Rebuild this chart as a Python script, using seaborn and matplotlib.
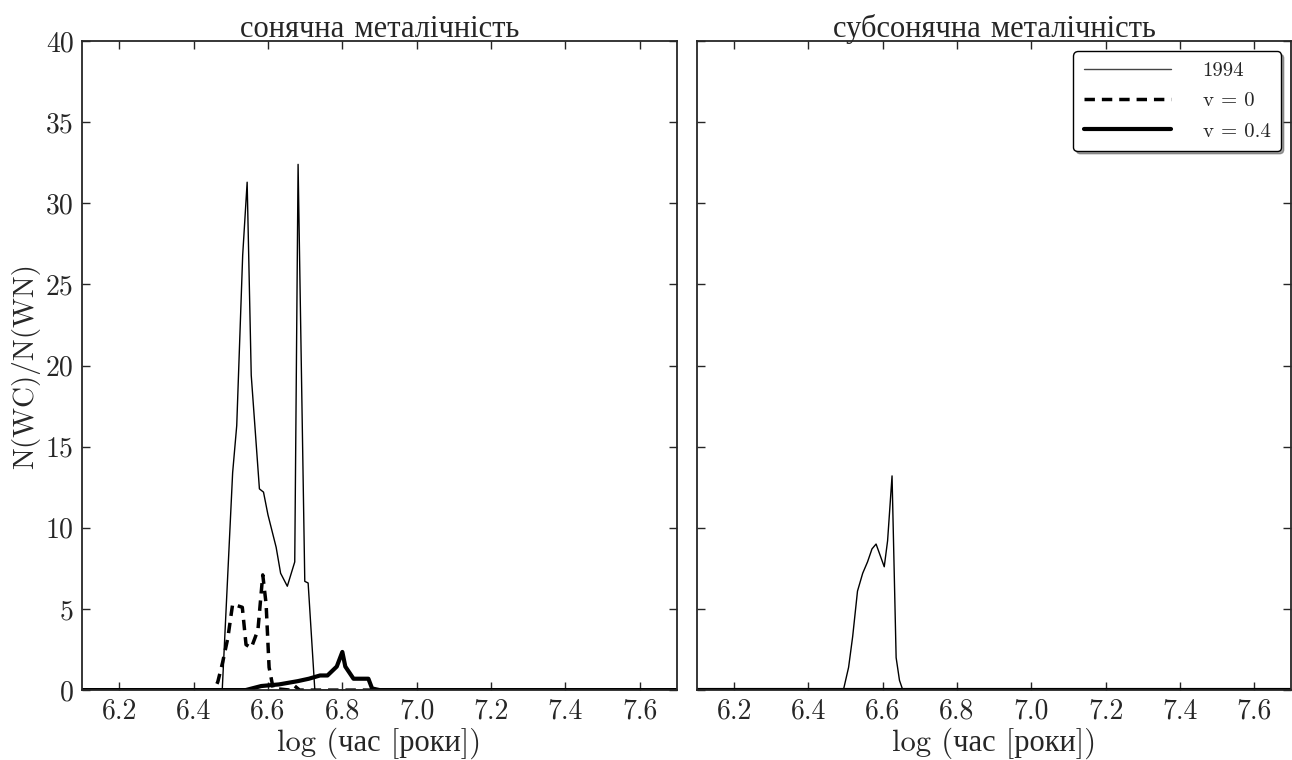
import numpy as np
import pandas as pd
import matplotlib
matplotlib.use("Agg")
import matplotlib.pyplot as plt
import seaborn as sns

# ---- data ----
# solar metallicity panel
solar_1994_x = [6.10, 6.477, 6.505, 6.516, 6.532, 6.544, 6.555, 6.577, 6.588, 6.600, 6.622,
                6.634, 6.652, 6.672, 6.681, 6.699, 6.708, 6.726, 7.70]
solar_1994_y = [0.0, 0.0, 13.4, 16.3, 26.8, 31.3, 19.4, 12.4, 12.2, 10.8, 8.8,
                7.2, 6.4, 7.9, 32.4, 6.7, 6.6, 0.0, 0.0]

solar_v0_x = [6.10, 6.455, 6.465, 6.478, 6.492, 6.505, 6.531, 6.541, 6.555, 6.573, 6.586,
              6.595, 6.603, 6.614, 6.660, 6.672, 6.685, 7.70]
solar_v0_y = [0.0, 0.0, 0.5, 1.7, 3.2, 5.3, 5.1, 2.8, 2.6, 3.7, 7.1,
              5.3, 1.4, 0.1, 0.0, 0.25, 0.0, 0.0]

solar_v04_x = [6.10, 6.540, 6.582, 6.630, 6.680, 6.710, 6.740, 6.760, 6.785, 6.800, 6.808,
               6.830, 6.870, 6.880, 6.900, 7.70]
solar_v04_y = [0.0, 0.0, 0.25, 0.35, 0.55, 0.7, 0.9, 0.9, 1.45, 2.35, 1.45,
               0.7, 0.7, 0.1, 0.0, 0.0]

# sub-solar metallicity panel
sub_1994_x = [6.10, 6.494, 6.508, 6.519, 6.532, 6.546, 6.559, 6.571, 6.582, 6.604, 6.613,
              6.625, 6.636, 6.645, 6.654, 7.70]
sub_1994_y = [0.0, 0.0, 1.4, 3.3, 6.1, 7.2, 7.9, 8.7, 9.0, 7.6, 9.2,
              13.2, 2.0, 0.6, 0.0, 0.0]
sub_v0_x = [6.10, 7.70]
sub_v0_y = [0.0, 0.0]
sub_v04_x = [6.10, 7.70]
sub_v04_y = [0.0, 0.0]

labels = ["1994", "v = 0", "v = 0.4"]
titles = ["сонячна металічність", "субсонячна металічність"]
xlabel = "log (час [роки])"
ylabel = "N(WC)/N(WN)"
xticks = [6.2, 6.4, 6.6, 6.8, 7.0, 7.2, 7.4, 7.6]
yticks = [0, 5, 10, 15, 20, 25, 30, 35, 40]

sns.set_style("ticks")
plt.rcParams["font.family"] = ["cmr10", "Liberation Serif"]
plt.rcParams["mathtext.fontset"] = "cm"
plt.rcParams["axes.formatter.use_mathtext"] = True

fig = plt.figure(figsize=(12.92, 7.6), dpi=100)
ax1 = fig.add_axes([0.0635, 0.092, 0.4605, 0.854])
ax2 = fig.add_axes([0.5395, 0.092, 0.4600, 0.854], sharey=ax1)

styles = [dict(color="black", lw=1.0, ls="-"),
          dict(color="black", lw=2.5, ls="--", dashes=(3, 2)),
          dict(color="black", lw=3.0, ls="-")]

panels = [
    (ax1, [(solar_1994_x, solar_1994_y), (solar_v0_x, solar_v0_y), (solar_v04_x, solar_v04_y)]),
    (ax2, [(sub_1994_x, sub_1994_y), (sub_v0_x, sub_v0_y), (sub_v04_x, sub_v04_y)]),
]

for i, (ax, series) in enumerate(panels):
    for (x, y), lab, st in zip(series, labels, styles):
        df = pd.DataFrame({"x": x, "y": y})
        kw = dict(st)
        dashes = kw.pop("dashes", None)
        sns.lineplot(data=df, x="x", y="y", ax=ax, label=lab, sort=False,
                     color=kw["color"], linewidth=kw["lw"], linestyle=kw["ls"],
                     legend=False)
        if dashes is not None:
            ax.lines[-1].set_dashes(dashes)
    ax.set_xlim(6.1, 7.7)
    ax.set_ylim(0, 40)
    ax.set_xticks(xticks)
    ax.set_yticks(yticks)
    ax.set_xticklabels([f"{t:.1f}" for t in xticks])
    ax.set_title(titles[i], fontsize=22, pad=3)
    ax.set_xlabel(xlabel, fontsize=22, labelpad=2)
    ax.tick_params(direction="in", top=True, right=True, length=6, width=1,
                   labelsize=20, pad=6)
    for s in ax.spines.values():
        s.set_linewidth(1.3)
        s.set_visible(True)

ax1.set_yticklabels([str(t) for t in yticks])
ax1.set_ylabel(ylabel, fontsize=21, labelpad=4)
ax2.set_ylabel("")
plt.setp(ax2.get_yticklabels(), visible=False)

handles = ax2.lines[:3]
leg = ax2.legend(handles, labels, loc="upper right", fontsize=15, fancybox=True,
                 shadow=True, frameon=True, handlelength=4.2, borderpad=0.5,
                 labelspacing=0.55, handletextpad=1.5)
leg.get_frame().set_edgecolor("black")
leg.get_frame().set_linewidth(1.0)
leg.get_lines()[0].set_color("#444444")

fig.savefig("out.png", dpi=100)
